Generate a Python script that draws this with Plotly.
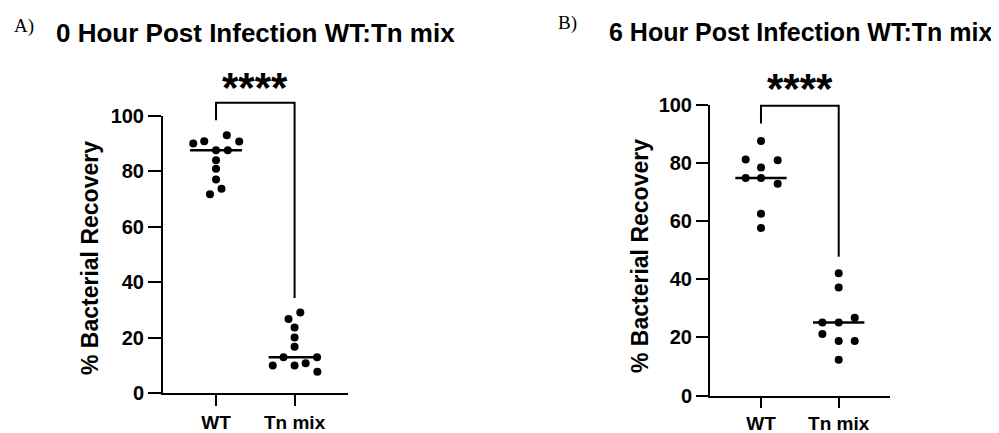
import numpy as np
import plotly.graph_objects as go

# ---------------- data ----------------
categories = ["WT", "Tn mix"]
y_ticks = [0, 20, 40, 60, 80, 100]

# Panel A: 0 hour post infection
a_wt = [89.9, 90.7, 92.9, 90.6, 87.5, 87.5, 83.9, 80.8, 76.9, 73.6, 71.6]
a_wt_jitter = [-0.29, -0.15, 0.137, 0.295, 0.0, 0.15, 0.0, 0.0, 0.0, 0.07, -0.077]
a_tn = [29.0, 26.7, 23.6, 20.0, 16.7, 12.9, 12.9, 9.9, 9.9, 10.7, 7.7]
a_tn_jitter = [0.073, -0.077, 0.0, 0.0, 0.0, -0.141, 0.286, -0.278, 0.0, 0.141, 0.29]
a_bracket = [98.3, 104.6, 34.2]   # left foot, top, right foot (y values)

# Panel B: 6 hour post infection
b_wt = [87.6, 81.2, 81.0, 78.5, 74.9, 74.9, 72.9, 62.6, 57.7]
b_wt_jitter = [0.0, -0.197, 0.215, 0.0, -0.197, 0.0, 0.215, 0.0, 0.0]
b_tn = [42.1, 37.2, 25.1, 25.1, 26.8, 21.2, 18.8, 18.8, 12.3]
b_tn_jitter = [0.0, 0.0, -0.21, 0.0, 0.206, -0.21, 0.0, 0.206, 0.0]
b_bracket = [93.6, 99.7, 47.8]

significance = "****"
titles = ["0 Hour Post Infection WT:Tn mix", "6 Hour Post Infection WT:Tn mix"]
panel_labels = ["A)", "B)"]
y_title = "% Bacterial Recovery"

YMAX = 100
SANS = "Liberation Sans, Arial, sans-serif"
SERIF = "Liberation Serif, Times New Roman, serif"

OFF = 8  # page body margin
W, H = 999 - OFF, 433 - OFF


def px(x):
    return (x - OFF) / W


def py(y):
    return 1 - (y - OFF) / H


fig = go.Figure()

panels = [
    dict(xa="x", ya="y", groups=[(a_wt, a_wt_jitter), (a_tn, a_tn_jitter)], bracket=a_bracket),
    dict(xa="x2", ya="y2", groups=[(b_wt, b_wt_jitter), (b_tn, b_tn_jitter)], bracket=b_bracket),
]

half = 0.33
for p in panels:
    for gi, (vals, jit) in enumerate(p["groups"]):
        xs = [gi + j for j in jit]
        fig.add_trace(go.Scatter(
            x=xs, y=vals, mode="markers", xaxis=p["xa"], yaxis=p["ya"],
            marker=dict(color="black", size=8, line=dict(width=0)),
            cliponaxis=False, showlegend=False, hoverinfo="skip"))
        med = float(np.median(vals))
        fig.add_trace(go.Scatter(
            x=[gi - half, gi + half], y=[med, med], mode="lines",
            xaxis=p["xa"], yaxis=p["ya"],
            line=dict(color="black", width=2.5), showlegend=False, hoverinfo="skip"))
    lf, top, rf = p["bracket"]
    path = (f"M 0,{lf / YMAX} L 0,{top / YMAX} L 1,{top / YMAX} L 1,{rf / YMAX}")
    fig.add_shape(type="path", path=path, xref=p["xa"], yref=p["ya"] + " domain",
                  line=dict(color="black", width=2))

axis_common = dict(
    showline=True, linecolor="black", linewidth=2, showgrid=False, zeroline=False,
    ticks="outside", tickcolor="black", tickwidth=2, automargin=False,
)
ytick_font = dict(family=SANS, size=20, color="black", weight="bold")
xtick_font = dict(family=SANS, size=19, color="black", weight="bold")

fig.update_layout(
    width=W, height=H,
    margin=dict(l=0, r=0, t=0, b=0, pad=0, autoexpand=False),
    paper_bgcolor="white", plot_bgcolor="white",
    showlegend=False,
    xaxis=dict(domain=[px(163), px(348)], range=[-0.675, 1.68],
               tickvals=[0, 1], ticktext=categories, ticklen=11, ticklabelstandoff=0,
               tickfont=xtick_font, anchor="y", **axis_common),
    yaxis=dict(domain=[py(393), py(115.5)], range=[0, YMAX],
               tickvals=y_ticks, ticklen=13, tickfont=ytick_font, anchor="x", **axis_common),
    xaxis2=dict(domain=[px(710), px(890)], range=[-0.656, 1.66],
                tickvals=[0, 1], ticktext=categories, ticklen=10, ticklabelstandoff=0,
                tickfont=xtick_font, anchor="y2", **axis_common),
    yaxis2=dict(domain=[py(395.5), py(105)], range=[0, YMAX],
                tickvals=y_ticks, ticklen=12, tickfont=ytick_font, anchor="x2", **axis_common),
)


def note(text, x, y, font, xref="paper", angle=0):
    return dict(text=text, x=x, y=y, xref=xref, yref="paper", xanchor="center",
                yanchor="middle", textangle=angle, showarrow=False, font=font)


title_font_a = dict(family=SANS, size=26, color="black", weight="bold")
title_font_b = dict(family=SANS, size=25, color="black", weight="bold")
letter_font = dict(family=SERIF, size=19, color="black")
ytitle_font = dict(family=SANS, size=23, color="black", weight="bold")
star_font = dict(family=SANS, size=42, color="black", weight="bold")

ann = [
    note(titles[0], px(255), py(33), title_font_a),
    note(titles[1], px(800), py(32), title_font_b),
    note(panel_labels[0], px(24), py(26), letter_font),
    note(panel_labels[1], px(567), py(23), letter_font),
    note(y_title, px(90), py(258), ytitle_font, angle=-90),
    note(y_title, px(640), py(256), ytitle_font, angle=-90),
    note(significance, 0.5, py(87), star_font, xref="x"),
    note(significance, 0.5, py(89), star_font, xref="x2"),
]
fig.update_layout(annotations=ann)

fig.write_html("out.html")
